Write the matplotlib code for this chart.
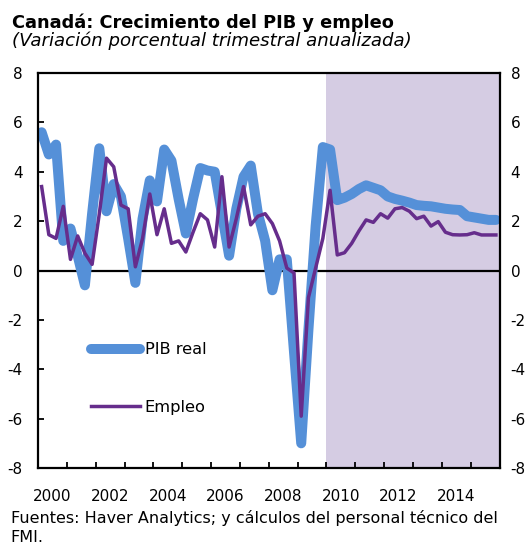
import numpy as np
import matplotlib
matplotlib.use("Agg")
import matplotlib.pyplot as plt

plt.rcParams['font.family'] = ['DejaVu Sans']
plt.rcParams['axes.unicode_minus'] = False

# quarterly data, 2000Q1 - 2015Q4 (annualized % change)
pib_real = [5.6, 4.7, 5.1, 1.2, 1.7, 0.6, -0.6, 2.3, 4.95, 2.4,
            3.5, 3.0, 1.3, -0.5, 2.1, 3.65, 2.8, 4.9, 4.45, 2.9,
            1.5, 2.9, 4.15, 4.05, 4.0, 2.3, 0.6, 2.5, 3.8, 4.25,
            2.3, 1.2, -0.8, 0.45, 0.45, -3.3, -7.0, -2.4, 1.8, 5.0,
            4.9, 2.85, 2.95, 3.1, 3.3, 3.45, 3.35, 3.25, 3.0, 2.9,
            2.83, 2.75, 2.65, 2.62, 2.6, 2.55, 2.5, 2.47, 2.45, 2.2,
            2.15, 2.1, 2.05, 2.05]
empleo = [3.4, 1.45, 1.3, 2.6, 0.45, 1.4, 0.7, 0.25, 2.3, 4.55,
          4.2, 2.65, 2.5, 0.15, 1.3, 3.1, 1.45, 2.5, 1.1, 1.2,
          0.75, 1.55, 2.3, 2.05, 0.95, 3.8, 0.95, 2.1, 3.4, 1.85,
          2.2, 2.3, 1.9, 1.2, 0.1, -0.1, -5.9, -1.1, 0.1, 1.3,
          3.25, 0.63, 0.72, 1.1, 1.6, 2.05, 1.95, 2.3, 2.12, 2.5,
          2.55, 2.4, 2.1, 2.2, 1.8, 1.98, 1.55, 1.45, 1.44, 1.45,
          1.53, 1.44, 1.44, 1.44]
start_year = 2000
end_year = 2016
proj_start = 2010
year_labels = [2000, 2002, 2004, 2006, 2008, 2010, 2012, 2014]

x = start_year + (np.arange(len(pib_real)) + 0.5) / 4

fig = plt.figure(figsize=(5.31, 5.44), dpi=100)
ax = fig.add_axes([0.0716, 0.1397, 0.8691, 0.7261])

# projection shading
ax.axvspan(proj_start, end_year, color='#D5CCE3', lw=0, zorder=0)
ax.axhline(0, color='black', lw=1.6, zorder=1)

ax.plot(x, pib_real, color='#5590D8', lw=7.2, solid_capstyle='round',
        solid_joinstyle='round', label='PIB real', zorder=2)
ax.plot(x, empleo, color='#662D8C', lw=2.5, label='Empleo', zorder=3)

ax.set_xlim(start_year, end_year)
ax.set_ylim(-8, 8)
ax.set_yticks(range(-8, 9, 2))

# year ticks (no labels), labels centered in the year
ax.set_xticks(range(start_year, end_year + 1))
ax.set_xticklabels([])
ax.set_xticks([y + 0.5 for y in year_labels], minor=True)
ax.set_xticklabels([str(y) for y in year_labels], minor=True)
ax.tick_params(axis='x', which='major', direction='in', length=4, width=1.3)
ax.tick_params(axis='x', which='minor', length=0, pad=15, labelsize=11)
ax.tick_params(axis='y', direction='in', length=4, width=1.3, labelsize=11,
               right=True, pad=11)
for sp in ax.spines.values():
    sp.set_linewidth(1.6)

# right-hand labels
ax2 = ax.twinx()
ax2.set_ylim(-8, 8)
ax2.set_yticks(range(-8, 9, 2))
ax2.tick_params(axis='y', length=0, pad=8, labelsize=11)
for sp in ax2.spines.values():
    sp.set_visible(False)

ax.legend(loc='upper left', bbox_to_anchor=(0.115, 0.318), frameon=False,
          fontsize=11.7, handlelength=3.0, handletextpad=0.3,
          labelspacing=2.6, borderpad=0, borderaxespad=0)

fig.text(0.023, 1 - 27.5 / 544, 'Canadá: Crecimiento del PIB y empleo', fontsize=12.8,
         fontweight='bold', va='baseline', ha='left')
fig.text(0.022, 1 - 45.5 / 544, '(Variación porcentual trimestral anualizada)', fontsize=13.1,
         style='italic', va='baseline', ha='left')
fig.text(0.02, 1 - 523.5 / 544, 'Fuentes: Haver Analytics; y cálculos del personal técnico del',
         fontsize=11.5, va='baseline', ha='left')
fig.text(0.02, 1 - 541.5 / 544, 'FMI.', fontsize=11.5, va='baseline', ha='left')

fig.savefig('out.png', dpi=100)
